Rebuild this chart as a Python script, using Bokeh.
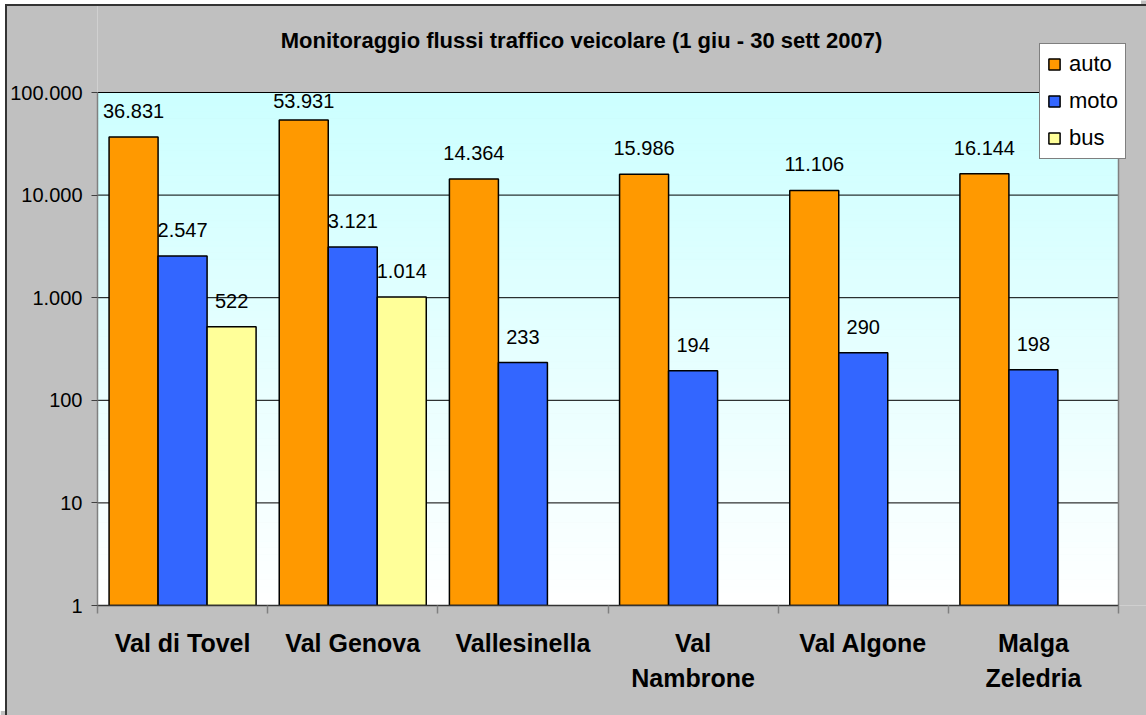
from bokeh.plotting import figure
from bokeh.models import (Range1d, FixedTicker, Legend, LegendItem, Label,
                          ColumnDataSource, InlineStyleSheet)
from bokeh.core.properties import value
from bokeh.embed import file_html
from bokeh.resources import INLINE

# ---- data -------------------------------------------------------------
categories = ["Val di Tovel", "Val Genova", "Vallesinella", "Val\nNambrone",
              "Val Algone", "Malga\nZeledria"]
auto = [36831, 53931, 14364, 15986, 11106, 16144]
moto = [2547, 3121, 233, 194, 290, 198]
bus = [522, 1014, None, None, None, None]
series_names = ["auto", "moto", "bus"]
series_colors = ["#FF9900", "#3366FF", "#FFFF99"]
y_ticks = [1, 10, 100, 1000, 10000, 100000]
y_tick_labels = ["1", "10", "100", "1.000", "10.000", "100.000"]
title_text = "Monitoraggio flussi traffico veicolare (1 giu - 30 sett 2007)"

FONT = "Liberation Sans"
BAR_W = 0.288
LABEL_GAP = 26      # px between a bar top and its value label
LABEL_TOP_MIN = 8   # labels are kept this far below the top of the plot area

# canvas geometry (px)
W, H = 1146, 715
AREA_L, AREA_R, AREA_T, AREA_B = 97, 1118, 92, 605


def it_fmt(v):
    return f"{v:,}".replace(",", ".")


n = len(categories)
centers = [i + 0.5 for i in range(n)]
bounds = [float(i) for i in range(n + 1)]

# the frame reaches the top and right canvas edges so that title and legend
# can sit over it; the plotting area itself is limited to [0, n] x [1, 1e5]
x_max = n * (W - AREA_L) / (AREA_R - AREA_L)
px_per_decade = (AREA_B - AREA_T) / 5.0
y_max = 10 ** (AREA_B / px_per_decade)

p = figure(width=W, height=H, x_range=Range1d(0, x_max),
           y_range=Range1d(y_ticks[0], y_max), y_axis_type="log",
           output_backend="svg", toolbar_location=None,
           min_border_left=AREA_L, min_border_right=0,
           min_border_top=0, min_border_bottom=H - AREA_B)
p.border_fill_color = "#C0C0C0"
p.background_fill_color = "#C0C0C0"
p.outline_line_color = None
p.xgrid.visible = False
p.ygrid.visible = False

# vertical gradient of the plot area (light turquoise -> white)
N = 80
g_bottom = [10 ** (5.0 * i / N) for i in range(N)]
g_top = [10 ** (5.0 * (i + 1) / N) for i in range(N)]
g_col = []
for i in range(N):
    t = (i + 0.5) / N
    r = int(round(255 - t * (255 - 204)))
    g_col.append("#%02X%02X%02X" % (r, 255, 255))
p.quad(left=0, right=n, bottom=g_bottom, top=g_top, fill_color=g_col,
       line_color=g_col, line_width=1, level="image")

# horizontal grid lines at each decade and right border of the area
p.segment(x0=0, x1=n, y0=y_ticks, y1=y_ticks, line_color="#000000",
          line_width=1, level="underlay")
p.segment(x0=n, x1=n, y0=y_ticks[0], y1=y_ticks[-1], line_color="#808080",
          line_width=1.5, level="underlay")

# bars + value labels
renderers = []
for k, (name, vals, col) in enumerate(zip(series_names, [auto, moto, bus], series_colors)):
    xs, ys, txt, dy = [], [], [], []
    for i, v in enumerate(vals):
        if v is None:
            continue
        xs.append(centers[i] + (k - 1) * BAR_W)
        ys.append(v)
        txt.append(it_fmt(v))
        # distance (px) of the bar top below the top of the plot area
        below_top = (5.0 - __import__("math").log10(v)) * px_per_decade
        dy.append(-min(LABEL_GAP, below_top - LABEL_TOP_MIN))
    src = ColumnDataSource(dict(x=xs, top=ys, label=txt, dy=dy))
    r = p.vbar(x="x", top="top", bottom=y_ticks[0], width=BAR_W, source=src,
               fill_color=col, line_color="black", line_width=1.5)
    renderers.append(r)
    p.text(x="x", y="top", text="label", source=src, text_align="center",
           text_baseline="alphabetic", y_offset="dy",
           text_font=value(FONT), text_font_size="20px", text_color="black")

# y axis
ya = p.yaxis[0]
ya.bounds = (y_ticks[0], y_ticks[-1])
ya.ticker = FixedTicker(ticks=y_ticks, minor_ticks=[])
ya.major_label_overrides = {t: l for t, l in zip(y_ticks, y_tick_labels)}
ya.axis_line_color = "#808080"
ya.axis_line_width = 1.5
ya.major_tick_line_color = "#404040"
ya.major_tick_in = 0
ya.major_tick_out = 6
ya.minor_tick_line_color = None
ya.major_label_standoff = 9
ya.major_label_text_font = FONT
ya.major_label_text_font_size = "20px"
ya.major_label_text_color = "black"

# x axis: tick marks at group boundaries, names at group centres
xa = p.xaxis[0]
xa.bounds = (0, n)
xa.ticker = FixedTicker(ticks=centers, minor_ticks=bounds)
xa.major_label_overrides = {c: name for c, name in zip(centers, categories)}
xa.axis_line_color = "#333333"
xa.axis_line_width = 1.5
xa.major_tick_line_color = None
xa.major_tick_in = 0
xa.major_tick_out = 0
xa.minor_tick_line_color = "#808080"
xa.minor_tick_line_width = 1.5
xa.minor_tick_in = 0
xa.minor_tick_out = 8
xa.major_label_standoff = 15
xa.major_label_text_font = FONT
xa.major_label_text_font_style = "bold"
xa.major_label_text_font_size = "25px"
xa.major_label_text_color = "black"
xa.major_label_text_line_height = 1.25

# title
p.add_layout(Label(x=581 - AREA_L, y=AREA_B - 40, x_units="screen", y_units="screen",
                   text=title_text, text_align="center", text_baseline="middle",
                   text_font=FONT, text_font_style="bold",
                   text_font_size="22px", text_color="black"))

# legend
legend = Legend(items=[LegendItem(label=nm, renderers=[r])
                       for nm, r in zip(series_names, renderers)],
                location=(1039 - AREA_L, AREA_B - 159), orientation="vertical",
                background_fill_color="white", background_fill_alpha=1.0,
                border_line_color="black", border_line_width=1,
                glyph_width=14, glyph_height=14, label_height=22,
                label_standoff=8, spacing=11, padding=7, margin=0,
                label_text_font=FONT, label_text_font_size="22px",
                label_text_color="black")
p.add_layout(legend)

# chart frame: white page margin and a dark edge on the top and left
p.stylesheets = [InlineStyleSheet(css="""
:host::after {
  content: "";
  position: absolute;
  left: 5px; top: 4px;
  width: %dpx; height: %dpx;
  border-left: 2px solid #333333;
  border-top: 2px solid #333333;
  box-shadow: -5px -4px 0 0 #FFFFFF;
  pointer-events: none;
}
""" % (W - 7, H - 6))]

open("out.html", "w").write(file_html(p, INLINE))
